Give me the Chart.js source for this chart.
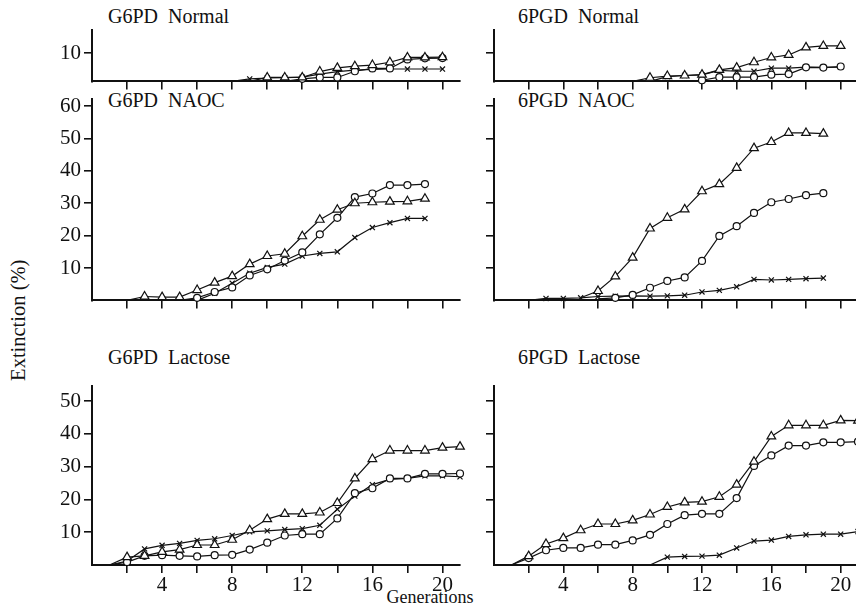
<!DOCTYPE html>
<html><head><meta charset="utf-8">
<script src="https://cdn.jsdelivr.net/npm/chart.js@4"></script>
<style>
html,body{margin:0;padding:0;background:#fff;overflow:hidden;width:856px;height:607px}
#wrap{position:relative;width:856px;height:607px;overflow:hidden;background:#fff}
canvas{position:absolute}
.t{position:absolute;font-family:"Liberation Serif",serif;color:#111;white-space:pre;line-height:1}
.ttl{font-size:20px}
</style></head><body><div id="wrap">
<div class="t ttl" style="left:108px;top:6px">G6PD  Normal</div>
<div class="t ttl" style="left:518px;top:6px">6PGD  Normal</div>
<div class="t ttl" style="left:108px;top:90px">G6PD  NAOC</div>
<div class="t ttl" style="left:518px;top:90px">6PGD  NAOC</div>
<div class="t ttl" style="left:108px;top:347px">G6PD  Lactose</div>
<div class="t ttl" style="left:518px;top:347px">6PGD  Lactose</div>
<div class="t" style="left:-52px;top:310px;width:140px;text-align:center;font-size:20.5px;transform:rotate(-90deg)">Extinction (%)</div>
<div class="t" style="left:370px;top:588px;width:120px;text-align:center;font-size:18px">Generations</div>
</div>
<script>
const n = null;
const gens = [0,1,2,3,4,5,6,7,8,9,10,11,12,13,14,15,16,17,18,19,20,21];
const xTicks = [2,4,6,8,10,12,14,16,18,20];
const xTickLabels = ['', '4', '', '8', '', '12', '', '16', '', '20'];
const yTicksNormal = [10];
const yTicksNAOC = [10,20,30,40,50,60];
const yTicksLactose = [10,20,30,40,50];

// G6PD Normal
const g6pdNormalTri   = [n,n,n,n,n,n,n,n,n,0,1.4,1.4,1.4,3.5,4.8,5.4,5.8,6.8,8.5,8.5,8.6,n];
const g6pdNormalCirc  = [n,n,n,n,n,n,n,n,n,n,n,0,0.9,1.4,1.4,3.6,4.6,4.6,7.8,8.2,8.3,n];
const g6pdNormalCross = [n,n,n,n,n,n,n,n,0,0.9,1.2,1.3,1.5,2.6,3.5,4.0,4.3,4.4,4.4,4.4,4.4,n];
// 6PGD Normal
const pgdNormalTri   = [n,n,n,n,n,n,n,n,0,1.3,1.9,2.1,2.4,4.1,4.9,6.8,8.5,9.4,12.1,12.6,12.6,n];
const pgdNormalCirc  = [n,n,n,n,n,n,n,n,n,n,n,0,0.4,1.5,1.5,1.5,2.4,2.6,5.0,4.9,5.3,n];
const pgdNormalCross = [n,n,n,n,n,n,n,n,n,0,1.7,2.1,2.3,3.9,3.6,3.6,4.7,4.7,5.1,5.0,5.1,n];
// G6PD NAOC
const g6pdNaocTri   = [n,n,0,1.2,1.0,1.0,3.2,5.5,7.5,11.2,13.7,14.4,19.8,24.9,28.0,30.0,30.3,30.5,30.6,31.4,n,n];
const g6pdNaocCirc  = [n,n,n,n,n,0,0.8,2.6,4.0,7.7,9.6,12.3,14.8,20.4,25.5,31.9,33.0,35.6,35.6,35.9,n,n];
const g6pdNaocCross = [n,n,n,n,n,n,0,2.2,5.3,8.4,10.2,11.2,13.7,14.5,15.0,19.4,22.5,24.0,25.3,25.3,n,n];
// 6PGD NAOC
const pgdNaocTri   = [n,n,n,n,n,0.8,2.9,7.4,13.2,22.2,25.5,28.1,33.7,35.9,40.9,47.0,48.9,51.7,51.7,51.5,n,n];
const pgdNaocCirc  = [n,n,n,n,n,n,0.5,0.8,1.7,3.9,6.0,7.1,12.2,19.9,22.9,27.0,30.3,31.3,32.5,33.1,n,n];
const pgdNaocCross = [n,n,0,0.6,0.6,0.8,1.2,1.3,1.4,1.3,1.4,1.6,2.6,3.1,4.2,6.5,6.3,6.5,6.7,6.9,n,n];
// G6PD Lactose
const g6pdLacTri   = [n,0,2.4,2.8,4.0,4.7,6.1,6.1,7.7,10.6,14.0,15.6,15.6,16.0,18.9,26.4,32.3,34.9,34.9,34.9,35.8,36.1];
const g6pdLacCirc  = [n,0,0.9,2.8,3.0,2.8,2.6,3.0,3.1,4.7,6.8,9.0,9.4,9.4,14.2,21.9,23.4,26.4,26.4,27.8,27.8,27.9];
const g6pdLacCross = [n,0,1.2,4.9,6.0,6.6,7.5,8.0,9.0,10.1,10.4,10.8,11.1,12.1,17.0,21.0,24.5,26.1,26.4,27.2,27.2,26.9];
// 6PGD Lactose
const pgdLacTri   = [n,0,2.7,6.4,8.2,10.6,12.5,12.5,13.6,15.4,17.7,19.1,19.3,20.8,24.5,31.5,39.2,42.6,42.6,42.6,44.1,44.0];
const pgdLacCirc  = [n,0,2.1,4.5,5.2,5.2,6.2,6.2,7.5,9.2,12.5,15.2,15.6,15.6,20.4,30.2,33.4,36.4,36.4,37.4,37.4,37.6];
const pgdLacCross = [n,n,n,n,n,n,n,n,n,0,2.4,2.6,2.7,3.0,5.2,7.3,7.6,8.7,9.2,9.4,9.4,10.2];

const markerStyles = ['triangle','circle','crossRot'];
const markerRadius = [5, 3.5, 3.6];

const panels = [
  {L:92,  R:460, T:22,  B:85,  yMax:18.4, yTicks:yTicksNormal,  yLab:true,  xLab:false, series:[g6pdNormalTri,g6pdNormalCirc,g6pdNormalCross]},
  {L:494, R:858, T:22,  B:85,  yMax:18.4, yTicks:yTicksNormal,  yLab:false, xLab:false, series:[pgdNormalTri,pgdNormalCirc,pgdNormalCross]},
  {L:92,  R:460, T:91,  B:304, yMax:62.3, yTicks:yTicksNAOC,    yLab:true,  xLab:false, series:[g6pdNaocTri,g6pdNaocCirc,g6pdNaocCross]},
  {L:494, R:858, T:91,  B:304, yMax:62.3, yTicks:yTicksNAOC,    yLab:false, xLab:false, series:[pgdNaocTri,pgdNaocCirc,pgdNaocCross]},
  {L:92,  R:460, T:378, B:565, yMax:54.7, yTicks:yTicksLactose, yLab:true,  xLab:true,  series:[g6pdLacTri,g6pdLacCirc,g6pdLacCross]},
  {L:494, R:858, T:378, B:565, yMax:54.7, yTicks:yTicksLactose, yLab:false, xLab:true,  series:[pgdLacTri,pgdLacCirc,pgdLacCross]}
];

const wrap = document.getElementById('wrap');
const ink = '#111';
const font = {family:'"Liberation Serif", serif', size:21};

panels.forEach(p => {
  const padL = 62, padR = 8, padT = 8;
  const xh = p.xLab ? 36 : 12;
  const w = (p.R - p.L) + padL + padR;
  const h = (p.B - p.T) + padT + xh;
  const cv = document.createElement('canvas');
  cv.width = w; cv.height = h;
  cv.style.left = (p.L - padL) + 'px';
  cv.style.top = (p.T - padT) + 'px';
  cv.style.width = w + 'px'; cv.style.height = h + 'px';
  wrap.appendChild(cv);
  new Chart(cv, {
    type: 'line',
    data: {
      datasets: p.series.map((vals, k) => ({
        data: gens.map((g, i) => ({x: g, y: vals[i]})).filter(d => d.y !== null),
        borderColor: ink, borderWidth: 1.2, tension: 0,
        pointStyle: markerStyles[k],
        pointRadius: ctx => ctx.dataIndex === 0 ? 0 : markerRadius[k],
        pointBackgroundColor: '#fff', pointBorderColor: ink, pointBorderWidth: 1.2,
        clip: false
      }))
    },
    options: {
      responsive: false, animation: false, devicePixelRatio: 1,
      layout: {padding: {left: 0, right: padR, top: padT, bottom: 0}},
      plugins: {legend: {display: false}, tooltip: {enabled: false}, title: {display: false}},
      scales: {
        x: {
          type: 'linear', min: 0, max: 21,
          afterFit: s => { s.height = xh; },
          afterBuildTicks: s => { s.ticks = xTicks.map(v => ({value: v})); },
          grid: {drawOnChartArea: false, drawTicks: true, tickLength: 8, color: ink, lineWidth: 1.6},
          border: {display: true, color: ink, width: 2},
          ticks: {autoSkip: false, maxRotation: 0, padding: 0, color: ink, font: font,
                  callback: (v, i) => p.xLab ? xTickLabels[i] : ''}
        },
        y: {
          type: 'linear', min: 0, max: p.yMax,
          afterFit: s => { s.width = padL; },
          afterBuildTicks: s => { s.ticks = p.yTicks.map(v => ({value: v})); },
          grid: {drawOnChartArea: false, drawTicks: true, tickLength: 8, color: ink, lineWidth: 1.6},
          border: {display: true, color: ink, width: 2},
          ticks: {autoSkip: false, padding: 3, color: ink, font: font,
                  callback: (v, i) => p.yLab ? String(p.yTicks[i]) : ''}
        }
      }
    }
  });
});
</script>
</body></html>
